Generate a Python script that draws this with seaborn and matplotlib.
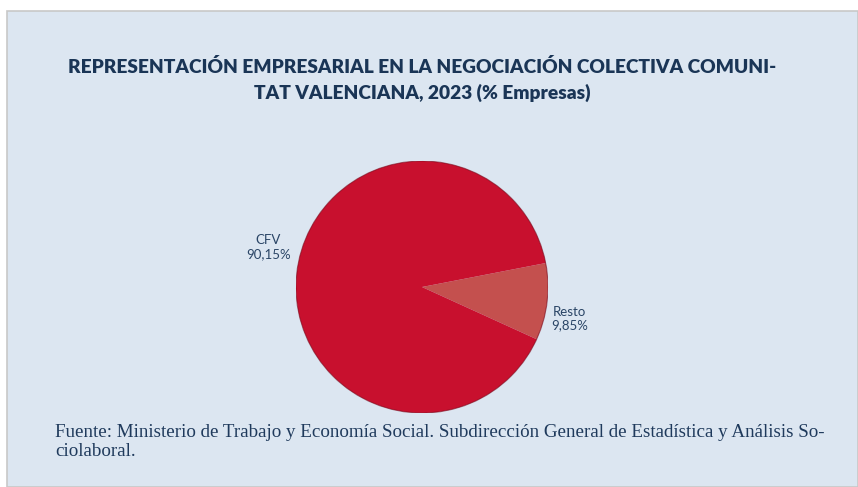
import numpy as np
import seaborn as sns
import matplotlib.pyplot as plt
from matplotlib.patches import Rectangle

categories = ["Resto", "CFV"]
shares = [9.85, 90.15]
slice_colors = ["#C4504E", "#C8102E"]

title = ("REPRESENTACIÓN EMPRESARIAL EN LA NEGOCIACIÓN COLECTIVA COMUNI-\n"
         "TAT VALENCIANA, 2023 (% Empresas)")
source = ("Fuente: Ministerio de Trabajo y Economía Social. Subdirección General de Estadística y Análisis So-\n"
          "ciolaboral.")

sns.set_theme(style="white")
plt.rcParams['font.family'] = ['Lato', 'DejaVu Sans']

W, H = 858, 487
fig = plt.figure(figsize=(W / 100, H / 100), dpi=100)
fig.patch.set_facecolor("white")

# chart area panel
fig.add_artist(Rectangle((7 / W, 0), 1 - 7 / W, 1 - 11 / H, transform=fig.transFigure,
                         facecolor="#DCE6F1", edgecolor="#C8C8C8", lw=1.2, zorder=0))

cx, cy, r = 422, 287, 126
ax = fig.add_axes([(cx - r) / W, (H - cy - r) / H, 2 * r / W, 2 * r / H])
ax.set_facecolor("none")
wedges, _ = ax.pie(shares, colors=slice_colors, startangle=-24.5, counterclock=True,
                   wedgeprops=dict(edgecolor="none"))
# thin darker rim
ax.add_patch(plt.Circle((0, 0), 1.0, fill=False, edgecolor="#7A0A1C", lw=0.8, alpha=0.6))
ax.set_xlim(-1, 1)
ax.set_ylim(-1, 1)
ax.set_aspect("equal")
ax.axis("off")

label_pos = {"CFV": (-1.22, 0.32), "Resto": (1.17, -0.25)}
for cat, val in zip(categories, shares):
    x, y = label_pos[cat]
    ax.text(x, y, f"{cat}\n{val:.2f}%".replace(".", ","), ha="center", va="center",
            fontsize=9.5, color="#2A4566", linespacing=1.2)

fig.text(cx / W, 1 - 80 / H, title, ha="center", va="center", fontsize=13.8,
         fontweight="heavy", color="#1A3556", linespacing=1.5)
fig.text(55 / W, 1 - 442 / H, source, ha="left", va="center", fontsize=13.7,
         family=["Liberation Serif", "DejaVu Serif"], color="#1F3A5C", linespacing=1.2)

fig.savefig("out.png", dpi=100)
